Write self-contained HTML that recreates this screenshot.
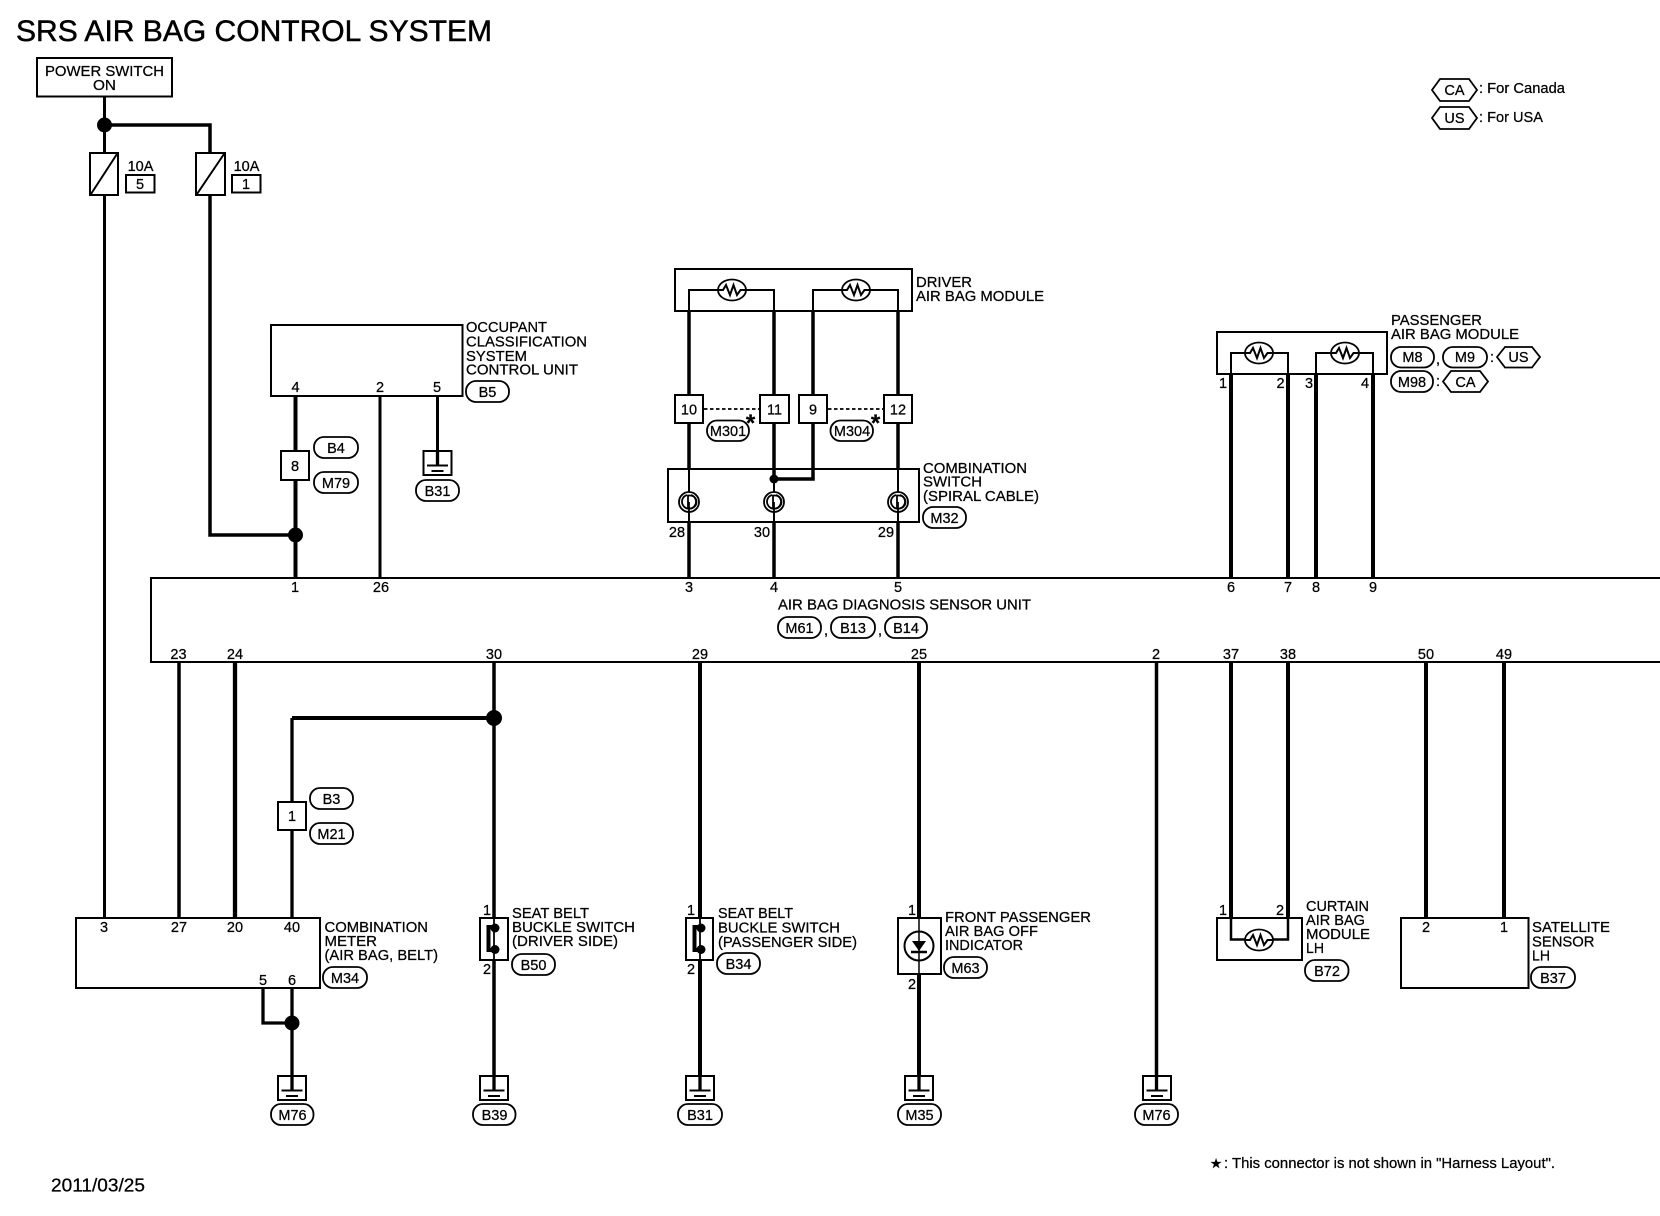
<!DOCTYPE html>
<html><head><meta charset="utf-8"><title>SRS AIR BAG CONTROL SYSTEM</title>
<style>
html,body{margin:0;padding:0;background:#fff;width:1660px;height:1216px;overflow:hidden}
svg{display:block}
text{font-family:"Liberation Sans",sans-serif;font-size:14.5px;fill:#000;stroke:#000;stroke-width:.25}
.p{text-anchor:middle}
.o rect,.o polygon{fill:#fff;stroke:#000;stroke-width:1.8}
.b{fill:none;stroke:#000;stroke-width:2}
.w{stroke:#000;fill:none}
</style></head><body>
<svg width="1660" height="1216" viewBox="0 0 1660 1216" xmlns="http://www.w3.org/2000/svg">
<defs>
<g id="res"><ellipse cx="0" cy="0" rx="14" ry="10.5" fill="#fff" stroke="#000" stroke-width="1.8"/><polyline points="-13,0 -9,0 -6,-5 -2,5 1.500,-5 5,5 8.500,0 13,0" fill="none" stroke="#000" stroke-width="2"/></g>
<g id="gnd"><rect x="-14" y="0" width="28" height="24" fill="none" stroke="#000" stroke-width="2"/><path d="M-10.5 14.5H10.5M-6 20H6" stroke="#000" stroke-width="2" fill="none"/></g>
<g id="spi"><circle r="10" fill="#fff" stroke="#000" stroke-width="1.8"/><path d="M-2 -7A7 7 0 1 0 2 -7" fill="none" stroke="#000" stroke-width="1.800"/><path d="M-1 -6.500H1A6.500 6.500 0 0 1 1 6.500H-1Z" fill="none" stroke="#000" stroke-width="1.800"/></g>
</defs>

<text x="16" y="41" style="font-size:30px;stroke-width:.5" textLength="476" lengthAdjust="spacingAndGlyphs">SRS AIR BAG CONTROL SYSTEM</text>

<!-- power switch -->
<rect class="b" x="37" y="58" width="135" height="38.5"/>
<text x="45" y="76" textLength="119" lengthAdjust="spacingAndGlyphs">POWER SWITCH</text>
<text x="93" y="90" textLength="23" lengthAdjust="spacingAndGlyphs">ON</text>

<!-- wires power -->
<path class="w" stroke-width="3" d="M104.5 96V153M104.5 195V918"/>
<path class="w" stroke-width="3.5" d="M104.5 125H210V153M210 195V535H295"/>
<circle cx="104.5" cy="125" r="7.5"/>
<circle cx="295.500" cy="535" r="7.5"/>
<rect class="b" x="90" y="153" width="28" height="42"/><path class="w" stroke-width="2" d="M91 194L117 154"/>
<rect class="b" x="196" y="153" width="29" height="42"/><path class="w" stroke-width="2" d="M197 194L224 154"/>
<text class="p" x="140.500" y="171">10A</text>
<rect class="b" x="126" y="175" width="28.500" height="17.500"/><text class="p" x="140" y="189">5</text>
<text class="p" x="246.500" y="171">10A</text>
<rect class="b" x="232" y="175" width="28.500" height="17.500"/><text class="p" x="246" y="189">1</text>

<!-- occupant -->
<rect class="b" x="271" y="325" width="191.500" height="71"/>
<text class="p" x="295.500" y="392">4</text><text class="p" x="380" y="392">2</text><text class="p" x="437" y="392">5</text>
<text x="466" y="332" textLength="81" lengthAdjust="spacingAndGlyphs">OCCUPANT</text>
<text x="466" y="346.500" textLength="121" lengthAdjust="spacingAndGlyphs">CLASSIFICATION</text>
<text x="466" y="361" textLength="61" lengthAdjust="spacingAndGlyphs">SYSTEM</text>
<text x="466" y="374.500" textLength="112" lengthAdjust="spacingAndGlyphs">CONTROL UNIT</text>
<g class="o"><rect x="466" y="381" width="43" height="21" rx="10"/></g><text class="p" x="487.500" y="397">B5</text>
<path class="w" stroke-width="4" d="M295.500 396V578"/>
<path class="w" stroke-width="3" d="M380 396V578M437.500 396V465"/>
<rect class="b" x="281" y="451" width="28" height="29" style="fill:#fff"/><text class="p" x="295" y="471">8</text>
<g class="o"><rect x="314" y="437" width="44" height="21" rx="10"/><rect x="314" y="472" width="44" height="21" rx="10"/></g>
<text class="p" x="336" y="453">B4</text><text class="p" x="336" y="488">M79</text>
<use href="#gnd" x="437.500" y="451"/>
<g class="o"><rect x="416" y="480" width="43" height="21" rx="10"/></g><text class="p" x="437.500" y="496">B31</text>

<!-- driver air bag -->
<rect class="b" x="675" y="269" width="237" height="42"/>
<path class="w" stroke-width="2" d="M689 311V290H774V311M813 311V290H898V311"/>
<use href="#res" x="732" y="290"/><use href="#res" x="856" y="290"/>
<text x="916" y="287" textLength="56" lengthAdjust="spacingAndGlyphs">DRIVER</text>
<text x="916" y="301" textLength="128" lengthAdjust="spacingAndGlyphs">AIR BAG MODULE</text>
<path class="w" stroke-width="3.5" d="M689 311V395M689 423V469M774 311V395M774 423V479M813 311V395M813 423V479H774M898 311V395M898 423V469"/>
<path class="w" stroke-width="3.500" d="M689 522V578M774 522V578M898 522V578"/>
<path class="w" stroke-width="2" d="M689 469V522M774 479V522M898 469V522"/>
<g class="b"><rect x="675" y="395" width="28" height="28"/><rect x="760" y="395" width="29" height="28"/><rect x="799" y="395" width="28" height="28"/><rect x="884" y="395" width="28" height="28"/></g>
<text class="p" x="689" y="414.500">10</text><text class="p" x="774.500" y="414.500">11</text><text class="p" x="813" y="414.500">9</text><text class="p" x="898" y="414.500">12</text>
<path class="w" stroke-width="1.800" stroke-dasharray="3.500 2.500" d="M704 409H759M828 409H883"/>
<text class="p" x="750.500" y="431" style="font-size:24px;font-weight:bold">*</text>
<text class="p" x="875.500" y="431" style="font-size:24px;font-weight:bold">*</text>
<g class="o"><rect x="707" y="420.500" width="42" height="20.500" rx="10"/><rect x="830.500" y="420.500" width="42.500" height="20.500" rx="10"/></g>
<text class="p" x="728" y="436">M301</text><text class="p" x="852" y="436">M304</text>
<rect class="b" x="668" y="469" width="251" height="53"/>
<circle cx="774" cy="479" r="4.500"/>
<use href="#spi" x="689" y="502"/><use href="#spi" x="774" y="502"/><use href="#spi" x="898" y="502"/>
<path class="w" stroke-width="1.800" d="M689 502V522M774 502V522M898 502V522"/>
<text class="p" x="677" y="537">28</text><text class="p" x="762" y="537">30</text><text class="p" x="886" y="537">29</text>
<text x="923" y="473" textLength="104" lengthAdjust="spacingAndGlyphs">COMBINATION</text>
<text x="923" y="486.500" textLength="59" lengthAdjust="spacingAndGlyphs">SWITCH</text>
<text x="923" y="501" textLength="116" lengthAdjust="spacingAndGlyphs">(SPIRAL CABLE)</text>
<g class="o"><rect x="923" y="507" width="43" height="21" rx="10"/></g><text class="p" x="944.500" y="523">M32</text>

<!-- passenger air bag -->
<rect class="b" x="1217" y="332" width="170" height="42"/>
<path class="w" stroke-width="2" d="M1231 374V353H1288V374M1316 374V353H1373V374"/>
<use href="#res" x="1259" y="353"/><use href="#res" x="1345" y="353"/>
<path class="w" stroke-width="4" d="M1231 374V578M1288 374V578M1316 374V578M1373 374V578"/>
<text class="p" x="1223" y="388">1</text><text class="p" x="1280.500" y="388">2</text><text class="p" x="1309" y="388">3</text><text class="p" x="1365" y="388">4</text>
<text x="1391" y="325" textLength="91" lengthAdjust="spacingAndGlyphs">PASSENGER</text>
<text x="1391" y="339" textLength="128" lengthAdjust="spacingAndGlyphs">AIR BAG MODULE</text>
<g class="o"><rect x="1391" y="347" width="43" height="20.500" rx="10"/><rect x="1443" y="347" width="44" height="20.500" rx="10"/>
<polygon points="1497,357 1505,347 1532,347 1540,357 1532,367.500 1505,367.500"/>
<rect x="1391" y="371" width="42" height="21" rx="10"/>
<polygon points="1443,381.500 1451,371 1480,371 1488,381.500 1480,392 1451,392"/>
<polygon points="1432,90 1440,79 1469,79 1477,90 1469,101 1440,101"/>
<polygon points="1432,118 1440,107 1469,107 1477,118 1469,129 1440,129"/></g>
<text class="p" x="1412.500" y="362">M8</text><text x="1436" y="364">,</text><text class="p" x="1465" y="362">M9</text><text x="1490" y="362">:</text><text class="p" x="1518.500" y="362">US</text>
<text class="p" x="1412" y="387">M98</text><text x="1436" y="386">:</text><text class="p" x="1465.500" y="387">CA</text>
<text class="p" x="1454.500" y="95">CA</text><text class="p" x="1454.500" y="123">US</text>
<text x="1479" y="93" textLength="86" lengthAdjust="spacingAndGlyphs">: For Canada</text>
<text x="1479" y="122" textLength="64" lengthAdjust="spacingAndGlyphs">: For USA</text>

<!-- main unit -->
<path class="b" d="M1660 578H151V662H1660"/>
<text class="p" x="295" y="592">1</text><text class="p" x="381" y="592">26</text><text class="p" x="689" y="592">3</text><text class="p" x="774" y="592">4</text><text class="p" x="898" y="592">5</text><text class="p" x="1231" y="592">6</text><text class="p" x="1288" y="592">7</text><text class="p" x="1316" y="592">8</text><text class="p" x="1373" y="592">9</text>
<text x="778" y="609.500" textLength="253" lengthAdjust="spacingAndGlyphs">AIR BAG DIAGNOSIS SENSOR UNIT</text>
<g class="o"><rect x="778" y="617" width="43" height="21" rx="10"/><rect x="831" y="617" width="44" height="21" rx="10"/><rect x="885" y="617" width="42" height="21" rx="10"/></g>
<text class="p" x="799.500" y="633">M61</text><text x="824" y="635">,</text><text class="p" x="853" y="633">B13</text><text x="878" y="635">,</text><text class="p" x="906" y="633">B14</text>
<text class="p" x="178.500" y="659">23</text><text class="p" x="235" y="659">24</text><text class="p" x="494" y="659">30</text><text class="p" x="700" y="659">29</text><text class="p" x="919" y="659">25</text><text class="p" x="1156" y="659">2</text><text class="p" x="1231" y="659">37</text><text class="p" x="1288" y="659">38</text><text class="p" x="1426" y="659">50</text><text class="p" x="1504" y="659">49</text>

<!-- lower wires -->
<path class="w" stroke-width="3.500" d="M179 662V918"/>
<path class="w" stroke-width="4.300" d="M235 662V918"/>
<path class="w" stroke-width="3.500" d="M494 662V918M494 960V1076"/>
<path class="w" stroke-width="4" d="M494 718H292"/>
<path class="w" stroke-width="3.300" d="M292 718V918"/>
<circle cx="494" cy="718" r="8"/>
<path class="w" stroke-width="4" d="M700 662V918M700 960V1076M919 662V918M919 974V1076M1231 662V918M1288 662V918M1426 662V918M1504 662V918"/>
<path class="w" stroke-width="3.500" d="M1156.500 662V1076"/>
<rect class="b" x="278" y="802" width="28" height="28" style="fill:#fff"/><text class="p" x="292" y="821">1</text>
<g class="o"><rect x="310" y="788" width="43" height="21" rx="10"/><rect x="310" y="823" width="43" height="21" rx="10"/></g>
<text class="p" x="331.500" y="804">B3</text><text class="p" x="331.500" y="839">M21</text>

<!-- meter -->
<rect class="b" x="76" y="918" width="244" height="70"/>
<text class="p" x="104" y="932">3</text><text class="p" x="179" y="932">27</text><text class="p" x="235" y="932">20</text><text class="p" x="292" y="932">40</text>
<text class="p" x="263" y="985">5</text><text class="p" x="292" y="985">6</text>
<text x="324.500" y="932" textLength="103.500" lengthAdjust="spacingAndGlyphs">COMBINATION</text>
<text x="324.500" y="946" textLength="52.500" lengthAdjust="spacingAndGlyphs">METER</text>
<text x="324.500" y="960" textLength="113.500" lengthAdjust="spacingAndGlyphs">(AIR BAG, BELT)</text>
<g class="o"><rect x="323" y="967" width="44" height="21" rx="10"/></g><text class="p" x="345" y="983">M34</text>
<path class="w" stroke-width="3.300" d="M263 988V1023H292M292 988V1076"/>
<circle cx="292" cy="1023" r="7.500"/>
<g class="w" stroke-width="3.300"><path d="M292 1076V1090M494 1076V1090M700 1076V1090M919 1076V1090M1156.500 1076V1090M437.500 451V465"/></g>
<use href="#gnd" x="292" y="1076"/><use href="#gnd" x="494" y="1076"/><use href="#gnd" x="700" y="1076"/><use href="#gnd" x="919" y="1076"/><use href="#gnd" x="1157" y="1076"/>
<g class="o"><rect x="271" y="1104" width="42.500" height="21" rx="10"/><rect x="473" y="1104" width="42.500" height="21" rx="10"/><rect x="678" y="1104" width="44" height="21" rx="10"/><rect x="898" y="1104" width="43" height="21" rx="10"/><rect x="1135" y="1104" width="43" height="21" rx="10"/></g>
<text class="p" x="292.500" y="1120">M76</text><text class="p" x="494.500" y="1120">B39</text><text class="p" x="700" y="1120">B31</text><text class="p" x="919.500" y="1120">M35</text><text class="p" x="1156.500" y="1120">M76</text>

<!-- seat belt driver -->
<rect class="b" x="480" y="918" width="28" height="42"/>
<path class="w" stroke-width="1.800" d="M494 918V960"/>
<path class="w" stroke-width="4" d="M495 927H488.500V950H495"/><circle cx="495" cy="928" r="4.500"/><circle cx="495" cy="949.500" r="4.500"/>
<text class="p" x="487" y="915">1</text><text class="p" x="487" y="974">2</text>
<text x="512" y="918" textLength="77" lengthAdjust="spacingAndGlyphs">SEAT BELT</text>
<text x="512" y="932" textLength="123" lengthAdjust="spacingAndGlyphs">BUCKLE SWITCH</text>
<text x="512" y="946" textLength="106" lengthAdjust="spacingAndGlyphs">(DRIVER SIDE)</text>
<g class="o"><rect x="512" y="954" width="43" height="21" rx="10"/></g><text class="p" x="533.500" y="970">B50</text>

<!-- seat belt passenger -->
<rect class="b" x="686" y="918" width="27" height="42"/>
<path class="w" stroke-width="1.800" d="M700 918V960"/>
<path class="w" stroke-width="4" d="M701 927H694.500V950H701"/><circle cx="701" cy="928" r="4.500"/><circle cx="701" cy="949.500" r="4.500"/>
<text class="p" x="691" y="915">1</text><text class="p" x="691" y="974">2</text>
<text x="718" y="918" textLength="75" lengthAdjust="spacingAndGlyphs">SEAT BELT</text>
<text x="718" y="932.500" textLength="122" lengthAdjust="spacingAndGlyphs">BUCKLE SWITCH</text>
<text x="718" y="947" textLength="139" lengthAdjust="spacingAndGlyphs">(PASSENGER SIDE)</text>
<g class="o"><rect x="717" y="953" width="43" height="21" rx="10"/></g><text class="p" x="738.500" y="969">B34</text>

<!-- indicator -->
<rect class="b" x="898" y="918" width="43" height="56"/>
<circle cx="919" cy="946" r="14.500" fill="#fff" stroke="#000" stroke-width="2"/>
<path class="w" stroke-width="1.500" d="M919 918V974"/>
<polygon points="912,941 926,941 919,951"/><path class="w" stroke-width="2.500" d="M911 952H927"/>
<text class="p" x="912" y="915">1</text><text class="p" x="912" y="989">2</text>
<text x="945" y="922" textLength="146" lengthAdjust="spacingAndGlyphs">FRONT PASSENGER</text>
<text x="945" y="936" textLength="93" lengthAdjust="spacingAndGlyphs">AIR BAG OFF</text>
<text x="945" y="950" textLength="78" lengthAdjust="spacingAndGlyphs">INDICATOR</text>
<g class="o"><rect x="944" y="957" width="43" height="21" rx="10"/></g><text class="p" x="965.500" y="973">M63</text>

<!-- curtain -->
<rect class="b" x="1217" y="918" width="85" height="42"/>
<path class="w" stroke-width="2.500" d="M1231 918V939.500H1288V918"/>
<use href="#res" x="1259" y="940"/>
<text class="p" x="1223" y="915">1</text><text class="p" x="1280" y="915">2</text>
<text x="1306" y="911" textLength="63" lengthAdjust="spacingAndGlyphs">CURTAIN</text>
<text x="1306" y="925" textLength="59" lengthAdjust="spacingAndGlyphs">AIR BAG</text>
<text x="1306" y="939" textLength="64" lengthAdjust="spacingAndGlyphs">MODULE</text>
<text x="1306" y="953" textLength="18" lengthAdjust="spacingAndGlyphs">LH</text>
<g class="o"><rect x="1305" y="960" width="43.500" height="21" rx="10"/></g><text class="p" x="1327" y="976">B72</text>

<!-- satellite -->
<rect class="b" x="1401" y="918" width="127.500" height="70"/>
<text class="p" x="1426" y="932">2</text><text class="p" x="1504" y="932">1</text>
<text x="1532" y="932" textLength="78" lengthAdjust="spacingAndGlyphs">SATELLITE</text>
<text x="1532" y="946.500" textLength="62.500" lengthAdjust="spacingAndGlyphs">SENSOR</text>
<text x="1532" y="960.500" textLength="18" lengthAdjust="spacingAndGlyphs">LH</text>
<g class="o"><rect x="1531" y="967" width="44" height="21" rx="10"/></g><text class="p" x="1553" y="983">B37</text>

<!-- footer -->
<text x="1210" y="1168" style="font-family:'DejaVu Sans',sans-serif;font-size:13.500px">★</text>
<text x="1224" y="1168" textLength="331" lengthAdjust="spacingAndGlyphs">: This connector is not shown in "Harness Layout".</text>
<text x="51" y="1191.500" style="font-size:18px" textLength="94" lengthAdjust="spacingAndGlyphs">2011/03/25</text>
</svg>
</body></html>
